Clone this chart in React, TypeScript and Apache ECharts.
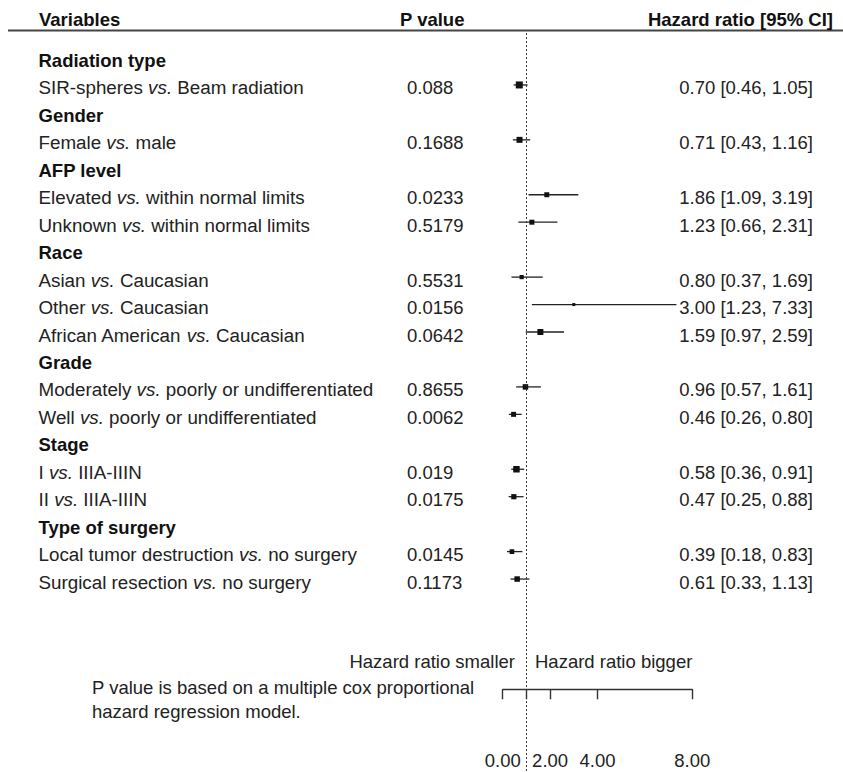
import React, { useEffect, useRef } from "react";
import * as echarts from "echarts";

// ---------- data ----------
const variables: string[] = [
  "Radiation type",
  "SIR-spheres vs. Beam radiation",
  "Gender",
  "Female vs. male",
  "AFP level",
  "Elevated vs. within normal limits",
  "Unknown vs. within normal limits",
  "Race",
  "Asian vs. Caucasian",
  "Other vs. Caucasian",
  "African American vs. Caucasian",
  "Grade",
  "Moderately vs. poorly or undifferentiated",
  "Well vs. poorly or undifferentiated",
  "Stage",
  "I vs. IIIA-IIIN",
  "II vs. IIIA-IIIN",
  "Type of surgery",
  "Local tumor destruction vs. no surgery",
  "Surgical resection vs. no surgery",
];
const groupRows: number[] = [0, 2, 4, 7, 11, 14, 17];
const pValues: (string | null)[] = [
  null, "0.088", null, "0.1688", null, "0.0233", "0.5179", null, "0.5531", "0.0156",
  "0.0642", null, "0.8655", "0.0062", null, "0.019", "0.0175", null, "0.0145", "0.1173",
];
const hazardRatio: (number | null)[] = [
  null, 0.70, null, 0.71, null, 1.86, 1.23, null, 0.80, 3.00,
  1.59, null, 0.96, 0.46, null, 0.58, 0.47, null, 0.39, 0.61,
];
const ciLower: (number | null)[] = [
  null, 0.46, null, 0.43, null, 1.09, 0.66, null, 0.37, 1.23,
  0.97, null, 0.57, 0.26, null, 0.36, 0.25, null, 0.18, 0.33,
];
const ciUpper: (number | null)[] = [
  null, 1.05, null, 1.16, null, 3.19, 2.31, null, 1.69, 7.33,
  2.59, null, 1.61, 0.80, null, 0.91, 0.88, null, 0.83, 1.13,
];
// relative box sizes (weights) of the squares
const boxWeight: (number | null)[] = [
  null, 7, null, 6, null, 5, 5, null, 4.2, 3,
  6, null, 5.5, 5, null, 6.5, 5.2, null, 4.6, 5.5,
];
const xTickValues: number[] = [0, 1, 2, 4, 8];
const xLabelValues: number[] = [0, 2, 4, 8];
const referenceHR = 1;

// ---------- layout ----------
const W = 843;
const H = 772;
const FONT = '"Liberation Sans", Arial, Helvetica, sans-serif';
const FS = 18.5;
const FS_VAR = 18.8;
const ROW0_Y = 60.5;
const ROW_H = 27.45;
const GRID_LEFT = 502.7;
const GRID_W = 189.6;
const GRID_TOP = ROW0_Y - ROW_H; // value -1
const GRID_BOTTOM = H;
const Y_MIN = -1;
const Y_MAX = Y_MIN + (GRID_BOTTOM - GRID_TOP) / ROW_H;
const AXIS_Y = 689.3;
const MARK_SHIFT = -3;

function rowIndex(v: number): number | null {
  const r = Math.round(v);
  if (Math.abs(v - r) > 1e-6 || r < 0 || r >= variables.length) return null;
  return r;
}

function variableLabel(v: number): string {
  const r = rowIndex(v);
  if (r === null) return "";
  const t = variables[r];
  if (groupRows.includes(r)) return `{b|${t}}`;
  const k = t.indexOf(" vs. ");
  if (k < 0) return `{n|${t}}`;
  return `{n|${t.slice(0, k)} }{i|vs. }{n|${t.slice(k + 5)}}`;
}

const fmt = (x: number) => x.toFixed(2);

export default function App() {
  const ref = useRef<HTMLDivElement>(null);

  useEffect(() => {
    if (!ref.current) return;
    const chart = echarts.init(ref.current, null, { renderer: "svg" });

    const forestData: number[][] = [];
    hazardRatio.forEach((h, i) => {
      if (h === null) return;
      forestData.push([ciLower[i] as number, ciUpper[i] as number, h, i, boxWeight[i] as number]);
    });

    const textBase = { fontFamily: FONT, fontSize: FS, color: "#222" };
    const varText = { fontFamily: FONT, fontSize: FS_VAR, color: "#222" };
    const hiddenY = {
      type: "value" as const,
      gridIndex: 0,
      inverse: true,
      min: Y_MIN,
      max: Y_MAX,
      interval: 1,
      axisLine: { show: false },
      axisTick: { show: false },
      splitLine: { show: false },
    };

    const option: any = {
      animation: false,
      backgroundColor: "#fff",
      grid: [
        { left: GRID_LEFT, top: GRID_TOP, width: GRID_W, height: GRID_BOTTOM - GRID_TOP, outerBoundsMode: "none", containLabel: false },
        { left: GRID_LEFT, top: AXIS_Y - 40, width: GRID_W, height: 40, outerBoundsMode: "none", containLabel: false },
      ],
      xAxis: [
        { type: "value", gridIndex: 0, min: 0, max: 8, show: false },
        {
          type: "value",
          gridIndex: 1,
          min: 0,
          max: 8,
          interval: 1,
          position: "bottom",
          axisLine: { show: true, lineStyle: { color: "#333", width: 1.4 } },
          axisTick: { show: true, inside: false, length: 10, customValues: xTickValues, lineStyle: { color: "#333", width: 1.4 } },
          axisLabel: {
            customValues: xLabelValues,
            formatter: (v: number) => fmt(v),
            margin: 62,
            ...textBase,
          },
          splitLine: { show: false },
        },
      ],
      yAxis: [
        {
          ...hiddenY,
          position: "left",
          axisLabel: {
            show: true,
            margin: GRID_LEFT - 38.5,
            align: "left",
            formatter: variableLabel,
            rich: {
              n: { ...varText },
              i: { ...varText, fontStyle: "italic" },
              b: { ...varText, fontSize: FS, fontWeight: "bold", color: "#111" },
            },
          },
        },
        {
          ...hiddenY,
          position: "left",
          axisLabel: {
            show: true,
            margin: GRID_LEFT - 407,
            align: "left",
            formatter: (v: number) => {
              const r = rowIndex(v);
              return r === null ? "" : pValues[r] ?? "";
            },
            ...textBase,
          },
        },
        {
          ...hiddenY,
          position: "right",
          axisLabel: {
            show: true,
            margin: 813 - (GRID_LEFT + GRID_W),
            align: "right",
            formatter: (v: number) => {
              const r = rowIndex(v);
              if (r === null || hazardRatio[r] === null) return "";
              return `${fmt(hazardRatio[r] as number)} [${fmt(ciLower[r] as number)}, ${fmt(ciUpper[r] as number)}]`;
            },
            ...textBase,
          },
        },
        { type: "value", gridIndex: 1, show: false, min: 0, max: 1 },
      ],
      series: [
        {
          type: "custom",
          xAxisIndex: 0,
          yAxisIndex: 0,
          clip: false,
          encode: { x: [0, 1, 2], y: 3 },
          data: forestData,
          renderItem: (params: any, api: any) => {
            const lo = api.value(0);
            const hi = api.value(1);
            const hr = api.value(2);
            const row = api.value(3);
            const s = api.value(4);
            const p1 = api.coord([lo, row]);
            const p2 = api.coord([hi, row]);
            const pc = api.coord([hr, row]);
            const y = p1[1] + MARK_SHIFT;
            return {
              type: "group",
              children: [
                {
                  type: "line",
                  shape: { x1: p1[0], y1: y, x2: p2[0], y2: y },
                  style: { stroke: "#222", lineWidth: 1.3 },
                },
                {
                  type: "rect",
                  shape: { x: pc[0] - s / 2, y: y - s / 2, width: s, height: s },
                  style: { fill: "#111" },
                },
              ],
            };
          },
          markLine: {
            silent: true,
            symbol: "none",
            animation: false,
            label: { show: false },
            lineStyle: { type: [2, 2], color: "#333", width: 1 },
            data: [{ xAxis: referenceHR }],
          },
        },
      ],
      graphic: [
        {
          type: "line",
          shape: { x1: 8, y1: 30.5, x2: W, y2: 30.5 },
          style: { stroke: "#444", lineWidth: 2 },
        },
        {
          type: "text",
          style: { text: "Variables", x: 39, y: 19, fontFamily: FONT, fontSize: FS, fontWeight: "bold", fill: "#111", align: "left", verticalAlign: "middle" },
        },
        {
          type: "text",
          style: { text: "P value", x: 400, y: 19, fontFamily: FONT, fontSize: FS, fontWeight: "bold", fill: "#111", align: "left", verticalAlign: "middle" },
        },
        {
          type: "text",
          style: { text: "Hazard ratio [95% CI]", x: 833, y: 19, fontFamily: FONT, fontSize: FS, fontWeight: "bold", fill: "#111", align: "right", verticalAlign: "middle" },
        },
        {
          type: "text",
          style: { text: "Hazard ratio smaller", x: 515, y: 661, fontFamily: FONT, fontSize: FS, fill: "#222", align: "right", verticalAlign: "middle" },
        },
        {
          type: "text",
          style: { text: "Hazard ratio bigger", x: 535, y: 661, fontFamily: FONT, fontSize: FS, fill: "#222", align: "left", verticalAlign: "middle" },
        },
        {
          type: "text",
          style: { text: "P value is based on a multiple cox proportional", x: 92, y: 687, fontFamily: FONT, fontSize: FS, fill: "#222", align: "left", verticalAlign: "middle" },
        },
        {
          type: "text",
          style: { text: "hazard regression model.", x: 92, y: 711, fontFamily: FONT, fontSize: FS, fill: "#222", align: "left", verticalAlign: "middle" },
        },
      ],
    };

    chart.setOption(option);
    return () => chart.dispose();
  }, []);

  return (
    <div
      ref={ref}
      style={{ position: "absolute", left: 0, top: 0, width: W, height: H, background: "#fff" }}
    />
  );
}
